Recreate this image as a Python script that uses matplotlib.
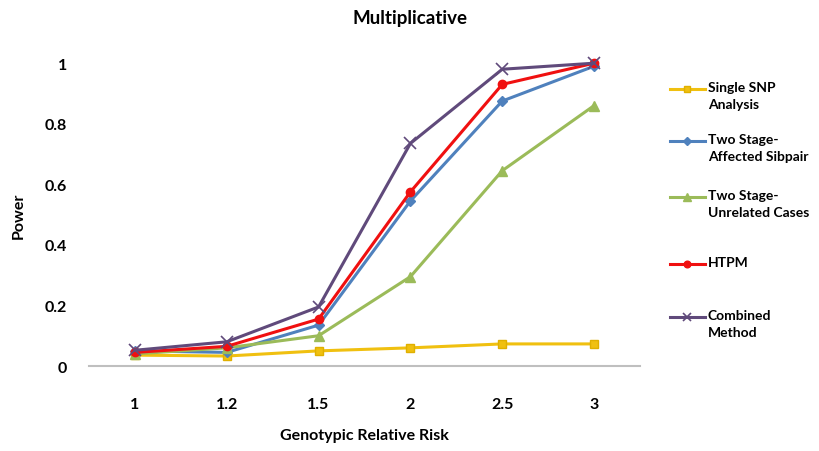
import matplotlib.pyplot as plt
from matplotlib.lines import Line2D

plt.rcParams['font.family'] = ['Lato', 'DejaVu Sans']

grr = ['1', '1.2', '1.5', '2', '2.5', '3']
single_snp = [0.036, 0.033, 0.05, 0.06, 0.073, 0.073]
sibpair = [0.05, 0.045, 0.135, 0.545, 0.875, 0.99]
unrelated = [0.04, 0.06, 0.10, 0.295, 0.645, 0.86]
htpm = [0.045, 0.065, 0.155, 0.575, 0.93, 1.0]
combined = [0.052, 0.08, 0.195, 0.735, 0.98, 1.0]

labels = ['Single SNP\nAnalysis', 'Two Stage-\nAffected Sibpair',
          'Two Stage-\nUnrelated Cases', 'HTPM', 'Combined\nMethod']
styles = [
    dict(c='#F0C010', marker='s', ms=6, mec='#E0B000'),
    dict(c='#4F81BD', marker='D', ms=5),
    dict(c='#9BBB59', marker='^', ms=7),
    dict(c='#F01010', marker='o', ms=6),
    dict(c='#604A7B', marker='x', ms=8, mew=1.2),
]
series = [single_snp, sibpair, unrelated, htpm, combined]

fig = plt.figure(figsize=(8.2, 4.52), dpi=100)
ax = fig.add_axes([0.1085, 0.188, 0.672, 0.67])

x = range(len(grr))
for vals, st in zip(series, styles):
    ax.plot(x, vals, lw=2.2, clip_on=False, **st)

ax.set_xlim(-0.5, 5.5)
ax.set_ylim(0, 1)
ax.set_xticks(list(x))
ax.set_xticklabels(grr)
ax.set_yticks([0, 0.2, 0.4, 0.6, 0.8, 1])
ax.set_yticklabels(['0', '0.2', '0.4', '0.6', '0.8', '1'])
for s in ['top', 'right', 'left']:
    ax.spines[s].set_visible(False)
ax.spines['bottom'].set_color('#BFBFBF')
ax.spines['bottom'].set_linewidth(1.5)
ax.tick_params(length=0, labelsize=11.5)
for t in ax.get_xticklabels() + ax.get_yticklabels():
    t.set_fontweight('bold')
ax.tick_params(axis='x', pad=22)
ax.tick_params(axis='y', pad=16)

ax.set_xlabel('Genotypic Relative Risk', fontsize=11.5, fontweight='bold')
ax.xaxis.set_label_coords(0.5, -0.205)
ax.set_ylabel('Power', fontsize=11.5, fontweight='bold')
ax.yaxis.set_label_coords(-0.115, 0.5)
fig.suptitle('Multiplicative', fontsize=13.5, fontweight='bold', y=0.978)

# legend drawn by hand so the handle sits on the first text line
legend_y = [90, 142, 198, 265, 318]
for lab, st, yp in zip(labels, styles, legend_y):
    fy = 1 - yp / 452
    fig.add_artist(Line2D([670 / 820, 705 / 820], [fy, fy], lw=2.2, c=st['c']))
    fig.add_artist(Line2D([687.5 / 820], [fy], lw=0, **{k: v for k, v in st.items()
                                                         if k != 'ms'}, ms=st['ms'] * 0.8))
    fig.text(708 / 820, fy + 8 / 452, lab, fontsize=10, fontweight='bold',
             va='top', ha='left', linespacing=1.5, family=['Lato', 'DejaVu Sans'])

plt.savefig('out.png')
